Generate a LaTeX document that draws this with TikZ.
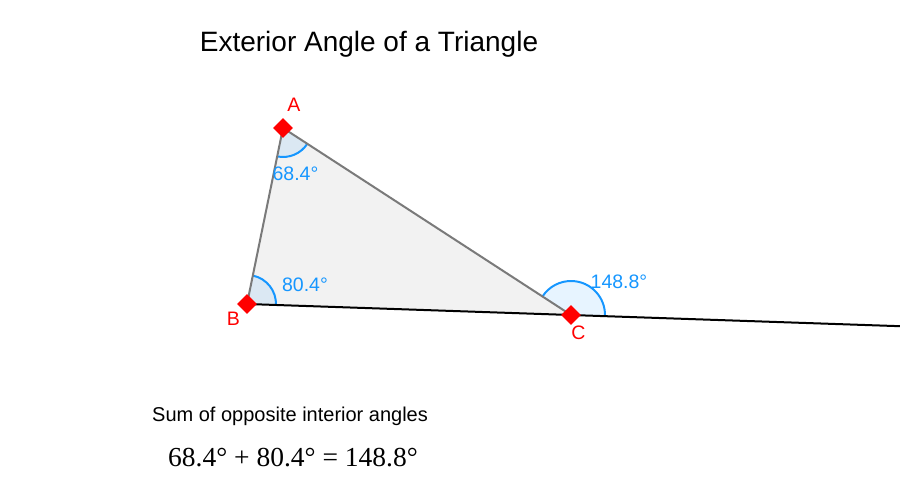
\documentclass[tikz,border=0pt]{standalone}
\usepackage{fontspec}
\setmainfont{Liberation Sans}
\newfontfamily\serifeq{Liberation Serif}
\usetikzlibrary{angles}
\definecolor{angblue}{RGB}{21,150,255}
\definecolor{trifill}{RGB}{242,242,242}
\definecolor{trigray}{RGB}{122,122,122}
\tikzset{
  vertexmark/.style={rectangle, rotate=45, fill=red, minimum size=14pt, inner sep=0pt},
  vlabel/.style={text=red, font=\fontsize{19.5}{23}\selectfont, inner sep=0pt},
  alabel/.style={text=angblue, font=\fontsize{19.5}{23}\selectfont, inner sep=0pt},
  angsector/.style={draw=angblue, line width=2pt, fill=angblue, fill opacity=0.1},
  side/.style={draw=trigray, line width=2pt},
  baseline/.style={draw=black, line width=2pt}
}
\begin{document}
\begin{tikzpicture}[x=1pt,y=1pt]
\useasboundingbox (0,0) rectangle (900,500);
\coordinate (A) at (283,372);
\coordinate (B) at (247,196);
\coordinate (C) at (571,185);
\coordinate (D) at (900,173.8);
% triangle fill
\fill[trifill] (A) -- (B) -- (C) -- cycle;
% angle sectors
\pic[angsector, angle radius=29pt] {angle=B--A--C};
\pic[angsector, angle radius=29pt] {angle=C--B--A};
\pic[angsector, angle radius=34pt] {angle=D--C--A};
% sides
\draw[side] (B) -- (A) -- (C);
\draw[baseline] (B) -- (D);
% vertex marks
\node[vertexmark] (mA) at (A) {};
\node[vertexmark] (mB) at (B) {};
\node[vertexmark] (mC) at (C) {};
% vertex labels
\node[vlabel] (lA) at (294,395) {A};
\node[vlabel] (lB) at (233.5,181) {B};
\node[vlabel] (lC) at (578.5,167.5) {C};
% angle labels
\node[alabel] (aA) at (295.5,326.5) {68.4°};
\node[alabel] (aB) at (305,215) {80.4°};
\node[alabel] (aC) at (619,218.5) {148.8°};
% texts
\node[anchor=base, inner sep=0pt, font=\fontsize{28}{34}\selectfont] (title) at (369,448) {Exterior Angle of a Triangle};
\node[anchor=base west, inner sep=0pt, font=\fontsize{20}{24}\selectfont] (sum) at (152,78) {Sum of opposite interior angles};
\node[anchor=base west, inner sep=0pt, font=\serifeq\fontsize{27.5}{32}\selectfont] (eq) at (168,33) {68.4° + 80.4° = 148.8°};
\end{tikzpicture}
\end{document}
